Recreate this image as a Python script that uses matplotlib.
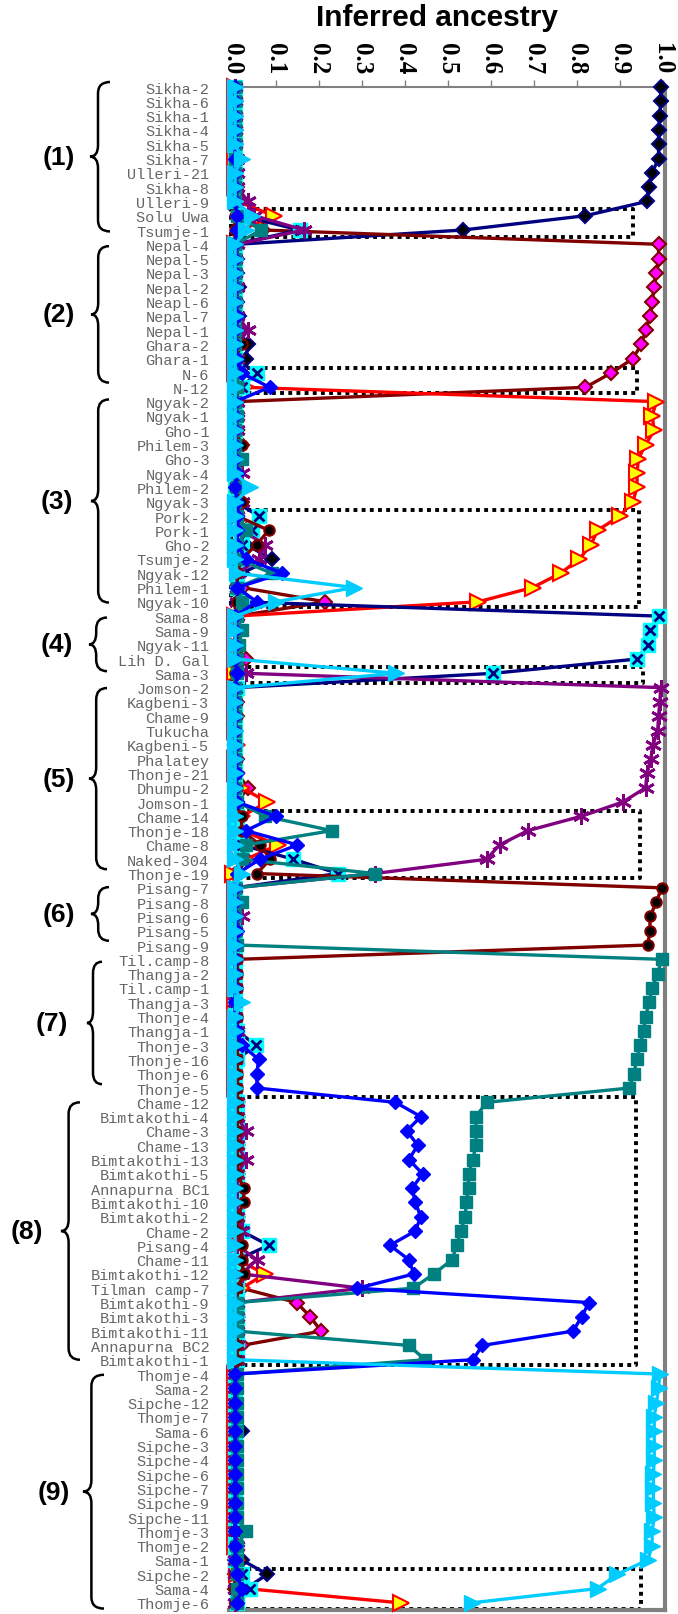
import numpy as np
import matplotlib.pyplot as plt
import matplotlib.transforms as mtransforms
from matplotlib.path import Path
from matplotlib.patches import PathPatch

# sample names, top to bottom
samples = [
    'Sikha-2', 'Sikha-6', 'Sikha-1', 'Sikha-4', 'Sikha-5', 'Sikha-7', 'Ulleri-21', 'Sikha-8',
    'Ulleri-9', 'Solu Uwa', 'Tsumje-1',
    'Nepal-4', 'Nepal-5', 'Nepal-3', 'Nepal-2', 'Neapl-6', 'Nepal-7', 'Nepal-1', 'Ghara-2',
    'Ghara-1', 'N-6', 'N-12',
    'Ngyak-2', 'Ngyak-1', 'Gho-1', 'Philem-3', 'Gho-3', 'Ngyak-4', 'Philem-2', 'Ngyak-3',
    'Pork-2', 'Pork-1', 'Gho-2', 'Tsumje-2', 'Ngyak-12', 'Philem-1', 'Ngyak-10',
    'Sama-8', 'Sama-9', 'Ngyak-11', 'Lih D. Gal', 'Sama-3',
    'Jomson-2', 'Kagbeni-3', 'Chame-9', 'Tukucha', 'Kagbeni-5', 'Phalatey', 'Thonje-21',
    'Dhumpu-2', 'Jomson-1', 'Chame-14', 'Thonje-18', 'Chame-8', 'Naked-304', 'Thonje-19',
    'Pisang-7', 'Pisang-8', 'Pisang-6', 'Pisang-5', 'Pisang-9',
    'Til.camp-8', 'Thangja-2', 'Til.camp-1', 'Thangja-3', 'Thonje-4', 'Thangja-1', 'Thonje-3',
    'Thonje-16', 'Thonje-6', 'Thonje-5',
    'Chame-12', 'Bimtakothi-4', 'Chame-3', 'Chame-13', 'Bimtakothi-13', 'Bimtakothi-5',
    'Annapurna BC1', 'Bimtakothi-10', 'Bimtakothi-2', 'Chame-2', 'Pisang-4', 'Chame-11',
    'Bimtakothi-12', 'Tilman camp-7', 'Bimtakothi-9', 'Bimtakothi-3', 'Bimtakothi-11',
    'Annapurna BC2', 'Bimtakothi-1',
    'Thomje-4', 'Sama-2', 'Sipche-12', 'Thomje-7', 'Sama-6', 'Sipche-3', 'Sipche-4', 'Sipche-6',
    'Sipche-7', 'Sipche-9', 'Sipche-11', 'Thomje-3', 'Thomje-2', 'Sama-1', 'Sipche-2', 'Sama-4',
    'Thomje-6',
]

# inferred ancestry per cluster (group order: 1..9)
k1 = ([0.995, 0.995, 0.993, 0.99, 0.99, 0.99, 0.975, 0.967, 0.963, 0.82, 0.535]
      + [0.01, 0.01, 0.01, 0.015, 0.01, 0.015, 0.01, 0.035, 0.03, 0.02, 0.01]
      + [0.01, 0.01, 0.01, 0.01, 0.01, 0.01, 0.01, 0.01, 0.01, 0.02, 0.03, 0.09, 0.02, 0.01, 0.01]
      + [0.01, 0.01, 0.01, 0.01, 0.01]
      + [0.005, 0.005, 0.005, 0.005, 0.005, 0.005, 0.01, 0.01, 0.01, 0.01, 0.02, 0.02, 0.03, 0.01]
      + [0.005, 0.005, 0.005, 0.005, 0.005]
      + [0.005, 0.005, 0.005, 0.005, 0.005, 0.01, 0.01, 0.005, 0.005, 0.005]
      + [0.01, 0.01, 0.01, 0.01, 0.01, 0.01, 0.01, 0.01, 0.01, 0.02, 0.01, 0.01, 0.01, 0.01,
         0.01, 0.01, 0.01, 0.01, 0.01]
      + [0.01, 0.005, 0.005, 0.005, 0.02, 0.005, 0.005, 0.005, 0.005, 0.005, 0.005, 0.005,
         0.01, 0.02, 0.08, 0.03, 0.01])
k2 = ([0.005, 0.005, 0.005, 0.005, 0.005, 0.005, 0.005, 0.01, 0.01, 0.02, 0.07]
      + [0.99, 0.99, 0.985, 0.98, 0.975, 0.97, 0.96, 0.95, 0.93, 0.88, 0.82]
      + [0.01, 0.01, 0.01, 0.02, 0.01, 0.01, 0.01, 0.02, 0.01, 0.03, 0.02, 0.01, 0.01, 0.02, 0.215]
      + [0.01, 0.005, 0.005, 0.03, 0.01]
      + [0.01, 0.01, 0.01, 0.005, 0.01, 0.01, 0.01, 0.035, 0.01, 0.01, 0.02, 0.02, 0.02, 0.005]
      + [0.005, 0.005, 0.005, 0.005, 0.005]
      + [0.005, 0.005, 0.005, 0.005, 0.005, 0.005, 0.005, 0.005, 0.005, 0.005]
      + [0.01, 0.01, 0.01, 0.01, 0.01, 0.01, 0.01, 0.01, 0.01, 0.01, 0.01, 0.01, 0.01, 0.02,
         0.148, 0.18, 0.205, 0.02, 0.01]
      + [0.005, 0.005, 0.005, 0.005, 0.005, 0.005, 0.005, 0.005, 0.005, 0.005, 0.005, 0.005,
         0.005, 0.005, 0.005, 0.005, 0.01])
k3 = ([0.005, 0.005, 0.005, 0.005, 0.005, 0.005, 0.005, 0.005, 0.01, 0.095, 0.02]
      + [0.005, 0.005, 0.005, 0.005, 0.005, 0.005, 0.005, 0.005, 0.005, 0.005, 0.03]
      + [0.985, 0.975, 0.98, 0.96, 0.943, 0.94, 0.94, 0.93, 0.90, 0.848, 0.833, 0.806, 0.762,
         0.697, 0.57]
      + [0.005, 0.005, 0.005, 0.005, 0.005]
      + [0.005, 0.005, 0.005, 0.005, 0.01, 0.005, 0.005, 0.02, 0.08, 0.02, 0.02, 0.105, 0.03, 0.0]
      + [0.005, 0.005, 0.005, 0.005, 0.005]
      + [0.005, 0.005, 0.005, 0.005, 0.005, 0.005, 0.005, 0.005, 0.005, 0.005]
      + [0.01, 0.01, 0.01, 0.01, 0.01, 0.01, 0.01, 0.01, 0.01, 0.01, 0.01, 0.01, 0.075, 0.02,
         0.01, 0.01, 0.01, 0.01, 0.01]
      + [0.005, 0.005, 0.005, 0.005, 0.005, 0.005, 0.005, 0.005, 0.005, 0.005, 0.005, 0.005,
         0.005, 0.01, 0.01, 0.03, 0.39])
k4 = ([0.005, 0.005, 0.005, 0.005, 0.005, 0.005, 0.005, 0.005, 0.005, 0.02, 0.155]
      + [0.005, 0.005, 0.005, 0.005, 0.005, 0.005, 0.005, 0.005, 0.005, 0.055, 0.02]
      + [0.005, 0.005, 0.005, 0.005, 0.005, 0.005, 0.005, 0.005, 0.06, 0.045, 0.02, 0.02, 0.01,
         0.01, 0.02]
      + [0.99, 0.97, 0.965, 0.94, 0.605]
      + [0.01, 0.005, 0.005, 0.005, 0.005, 0.005, 0.005, 0.005, 0.005, 0.01, 0.01, 0.02, 0.14, 0.245]
      + [0.005, 0.005, 0.005, 0.005, 0.005]
      + [0.005, 0.005, 0.005, 0.005, 0.005, 0.01, 0.053, 0.01, 0.005, 0.005]
      + [0.01, 0.01, 0.01, 0.01, 0.01, 0.01, 0.01, 0.01, 0.01, 0.02, 0.083, 0.01, 0.01, 0.01,
         0.01, 0.01, 0.01, 0.01, 0.01]
      + [0.005, 0.005, 0.005, 0.005, 0.005, 0.005, 0.005, 0.005, 0.005, 0.005, 0.005, 0.005,
         0.005, 0.005, 0.02, 0.04, 0.01])
k5 = ([0.005, 0.005, 0.005, 0.005, 0.005, 0.01, 0.01, 0.01, 0.035, 0.05, 0.165]
      + [0.01, 0.005, 0.005, 0.01, 0.005, 0.01, 0.035, 0.01, 0.01, 0.01, 0.01]
      + [0.01, 0.01, 0.01, 0.01, 0.01, 0.02, 0.01, 0.02, 0.01, 0.02, 0.075, 0.06, 0.01, 0.01, 0.01]
      + [0.01, 0.005, 0.005, 0.01, 0.03]
      + [0.995, 0.993, 0.99, 0.988, 0.977, 0.972, 0.963, 0.96, 0.907, 0.81, 0.686, 0.62, 0.59, 0.33]
      + [0.005, 0.005, 0.02, 0.005, 0.005]
      + [0.005, 0.005, 0.005, 0.005, 0.005, 0.01, 0.005, 0.005, 0.005, 0.005]
      + [0.01, 0.01, 0.03, 0.01, 0.03, 0.01, 0.01, 0.01, 0.01, 0.02, 0.01, 0.055, 0.02, 0.3,
         0.01, 0.01, 0.01, 0.01, 0.01]
      + [0.005, 0.005, 0.005, 0.005, 0.005, 0.005, 0.005, 0.005, 0.005, 0.005, 0.005, 0.005,
         0.01, 0.005, 0.005, 0.005, 0.005])
k6 = ([0.005, 0.005, 0.005, 0.005, 0.005, 0.005, 0.005, 0.005, 0.005, 0.005, 0.005]
      + [0.005, 0.005, 0.005, 0.005, 0.005, 0.005, 0.005, 0.02, 0.005, 0.005, 0.005]
      + [0.005, 0.005, 0.005, 0.02, 0.005, 0.005, 0.005, 0.02, 0.01, 0.083, 0.055, 0.02, 0.01,
         0.01, 0.01]
      + [0.005, 0.005, 0.005, 0.005, 0.005]
      + [0.005, 0.01, 0.01, 0.005, 0.005, 0.01, 0.005, 0.01, 0.005, 0.02, 0.02, 0.063, 0.087, 0.055]
      + [0.997, 0.985, 0.97, 0.97, 0.965]
      + [0.01, 0.01, 0.01, 0.01, 0.01, 0.01, 0.01, 0.01, 0.01, 0.01]
      + [0.01, 0.01, 0.01, 0.01, 0.01, 0.01, 0.025, 0.025, 0.01, 0.01, 0.02, 0.02, 0.025, 0.01,
         0.01, 0.01, 0.01, 0.01, 0.01]
      + [0.005, 0.005, 0.005, 0.005, 0.005, 0.005, 0.005, 0.005, 0.005, 0.005, 0.005, 0.005,
         0.005, 0.005, 0.005, 0.005, 0.005])
k7 = ([0.005, 0.005, 0.005, 0.005, 0.005, 0.005, 0.005, 0.005, 0.005, 0.01, 0.065]
      + [0.005, 0.005, 0.005, 0.005, 0.005, 0.005, 0.005, 0.005, 0.005, 0.005, 0.01]
      + [0.005, 0.01, 0.005, 0.005, 0.02, 0.005, 0.01, 0.005, 0.01, 0.03, 0.01, 0.01, 0.09,
         0.01, 0.02]
      + [0.01, 0.02, 0.015, 0.01, 0.01]
      + [0.005, 0.005, 0.005, 0.005, 0.005, 0.005, 0.005, 0.005, 0.01, 0.075, 0.23, 0.03, 0.02, 0.33]
      + [0.005, 0.02, 0.005, 0.005, 0.01]
      + [0.997, 0.988, 0.975, 0.968, 0.96, 0.955, 0.947, 0.94, 0.932, 0.922]
      + [0.59, 0.565, 0.565, 0.565, 0.558, 0.548, 0.548, 0.543, 0.54, 0.53, 0.52, 0.51, 0.467,
         0.419, 0.01, 0.01, 0.01, 0.409, 0.447]
      + [0.01, 0.01, 0.01, 0.01, 0.01, 0.01, 0.01, 0.01, 0.01, 0.01, 0.01, 0.03, 0.01, 0.01,
         0.01, 0.01, 0.01])
k8 = ([0.005, 0.005, 0.005, 0.005, 0.005, 0.005, 0.005, 0.005, 0.005, 0.01, 0.01]
      + [0.005, 0.005, 0.005, 0.005, 0.005, 0.01, 0.005, 0.005, 0.01, 0.02, 0.085]
      + [0.005, 0.005, 0.005, 0.005, 0.005, 0.01, 0.005, 0.01, 0.01, 0.01, 0.01, 0.03, 0.115,
         0.01, 0.055]
      + [0.005, 0.005, 0.005, 0.005, 0.01]
      + [0.005, 0.005, 0.005, 0.005, 0.005, 0.005, 0.01, 0.005, 0.01, 0.1, 0.03, 0.15, 0.063, 0.01]
      + [0.005, 0.005, 0.005, 0.01, 0.005]
      + [0.005, 0.005, 0.005, 0.005, 0.005, 0.01, 0.02, 0.06, 0.055, 0.056]
      + [0.378, 0.437, 0.404, 0.43, 0.409, 0.441, 0.417, 0.424, 0.437, 0.424, 0.365, 0.409,
         0.421, 0.289, 0.828, 0.811, 0.791, 0.58, 0.558]
      + [0.005, 0.005, 0.005, 0.005, 0.005, 0.005, 0.005, 0.005, 0.005, 0.005, 0.005, 0.005,
         0.005, 0.005, 0.01, 0.02, 0.01])
k9 = ([0.005, 0.005, 0.005, 0.005, 0.005, 0.02, 0.005, 0.005, 0.005, 0.045, 0.03]
      + [0.005, 0.005, 0.005, 0.005, 0.005, 0.005, 0.005, 0.005, 0.005, 0.005, 0.005]
      + [0.005, 0.005, 0.005, 0.005, 0.005, 0.005, 0.04, 0.005, 0.005, 0.005, 0.005, 0.005,
         0.01, 0.282, 0.1]
      + [0.005, 0.005, 0.005, 0.005, 0.38]
      + [0.005, 0.005, 0.005, 0.005, 0.005, 0.005, 0.005, 0.005, 0.005, 0.005, 0.005, 0.005,
         0.005, 0.02]
      + [0.005, 0.005, 0.005, 0.005, 0.005]
      + [0.005, 0.005, 0.005, 0.02, 0.005, 0.005, 0.005, 0.005, 0.005, 0.005]
      + [0.005, 0.005, 0.005, 0.005, 0.005, 0.005, 0.005, 0.005, 0.005, 0.005, 0.005, 0.005,
         0.005, 0.005, 0.005, 0.005, 0.005, 0.005, 0.005]
      + [0.993, 0.99, 0.985, 0.98, 0.98, 0.98, 0.98, 0.978, 0.978, 0.978, 0.98, 0.975, 0.975,
         0.965, 0.894, 0.848, 0.555])

group_labels = ['(1)', '(2)', '(3)', '(4)', '(5)', '(6)', '(7)', '(8)', '(9)']
# brace extents in rows (top, bottom)
brace_rows = [(-0.35, 10.1), (11.13, 20.67), (21.85, 36.05), (37.1, 40.85), (42.03, 54.7),
              (55.95, 59.7), (61.17, 69.73), (71.0, 89.0), (90.05, 106.4)]
# dotted boxes: x left, x right, top row, bottom row
boxes = [(-0.005, 0.93, 8.56, 10.5), (-0.005, 0.94, 19.67, 21.4), (-0.005, 0.944, 29.58, 36.33),
         (-0.005, 0.953, 40.57, 41.68), (-0.005, 0.947, 50.6, 55.3), (-0.005, 0.937, 70.6, 89.4),
         (-0.005, 0.95, 103.6, 106.4)]

W, H = 678, 1615
fig = plt.figure(figsize=(W / 100, H / 100), dpi=100)
ax = fig.add_axes([228.7 / W, 1 - 1611 / H, (665 - 228.7) / W, (1611 - 88) / H])

rows = np.arange(len(samples))

# dotted boxes
for x0, x1, yt, yb in boxes:
    ax.plot([x0, x1, x1, x0, x0], [yt, yt, yb, yb, yt], color='black', lw=2.8,
            ls=(0, (1, 1.1)), dash_capstyle='butt', zorder=2, clip_on=False)

lw = 2.4
navy, maroon, teal = '#000080', '#800000', '#008080'
ax.plot(k1, rows, color=navy, lw=lw, marker='D', ms=7.5, mfc='black', mec=navy, mew=1.5,
        zorder=3, clip_on=False)
ax.plot(k2, rows, color=maroon, lw=lw, marker='D', ms=7.5, mfc='#FF00FF', mec=maroon, mew=1.5,
        zorder=4, clip_on=False)
ax.plot(k3, rows, color='#FF0000', lw=lw, marker='>', ms=11, mfc='#FFFF00', mec='#FF0000',
        mew=1.5, zorder=5, clip_on=False)
ax.plot(k4, rows, color=navy, lw=lw, marker='s', ms=9.5, mfc='#00FFFF', mec='#00FFFF',
        zorder=6, clip_on=False)
ax.plot(k4, rows, ls='none', marker='x', ms=6.5, mec=navy, mew=2, zorder=6, clip_on=False)
ax.plot(k5, rows, color='#800080', lw=lw, marker=(6, 2, 0), ms=12, mec='#800080', mew=2,
        zorder=7, clip_on=False)
ax.plot(k6, rows, color=maroon, lw=lw, marker='o', ms=7.5, mfc='black', mec=maroon, mew=1.5,
        zorder=8, clip_on=False)
ax.plot(k7, rows, color=teal, lw=lw, marker='s', ms=9, mfc=teal, mec=teal,
        zorder=9, clip_on=False)
ax.plot(k8, rows, color='#0000FF', lw=lw, marker='D', ms=7.5, mfc='#0000FF', mec='#0000FF',
        zorder=10, clip_on=False)
ax.plot(k9, rows, color='#00CCFF', lw=lw, marker='>', ms=12, mfc='#00CCFF', mec='#00CCFF',
        zorder=11, clip_on=False)

ax.set_xlim(-0.01, 1.005)
ax.set_ylim(106.5, 0)

ax.xaxis.tick_top()
ax.set_xticks(np.arange(0, 1.01, 0.1))
ax.set_xticklabels([f'{v:.1f}' for v in np.arange(0, 1.01, 0.1)],
                   fontfamily='Liberation Serif', fontweight='bold', fontsize=18)
ax.tick_params(axis='x', direction='out', length=5, width=1, color='#808080', pad=5,
               labelrotation=270)
ax.set_yticks(rows)
ax.set_yticklabels(samples, fontfamily='Liberation Mono', fontsize=11, color='#666666')
ax.tick_params(axis='y', length=0, pad=14)

ax.spines['left'].set_visible(False)
ax.spines['top'].set_color('#808080')
ax.spines['top'].set_linewidth(1.5)
for s in ['right', 'bottom']:
    ax.spines[s].set_color('#808080')
    ax.spines[s].set_linewidth(3)

fig.text(437 / W, 1 - 18 / H, 'Inferred ancestry', ha='center', va='center',
         fontfamily='Liberation Sans', fontweight='bold', fontsize=21.5)

# braces and group labels
blend = mtransforms.blended_transform_factory(fig.transFigure, ax.transData)
brace_x = [(90, 110), (91, 109), (91, 109), (89, 107), (89, 107), (91, 109), (87, 102),
           (61, 80), (83, 104)]
label_x = [59, 59, 57, 57, 59, 59, 52, 27, 54]
for (y0, y1), (xt, xa), lx, lab in zip(brace_rows, brace_x, label_x, group_labels):
    xs = xt + 0.4 * (xa - xt)
    ym = (y0 + y1) / 2
    r = 0.8
    verts = [(xa, y0), (xs, y0), (xs, y0 + r), (xs, ym - r), (xs, ym), (xt, ym),
             (xs, ym), (xs, ym + r), (xs, y1 - r), (xs, y1), (xa, y1)]
    verts = [(vx / W, vy) for vx, vy in verts]
    codes = [Path.MOVETO, Path.CURVE3, Path.CURVE3, Path.LINETO, Path.CURVE3, Path.CURVE3,
             Path.CURVE3, Path.CURVE3, Path.LINETO, Path.CURVE3, Path.CURVE3]
    ax.add_patch(PathPatch(Path(verts, codes), transform=blend, fill=False, lw=1.8,
                           ec='black', clip_on=False))
    ax.text(lx / W, ym, lab, transform=blend, ha='center', va='center',
            fontfamily='Liberation Sans', fontweight='bold', fontsize=19, clip_on=False)

ax.set_xlim(-0.01, 1.005)
ax.set_ylim(106.5, 0)
fig.savefig('out.png', dpi=100)
